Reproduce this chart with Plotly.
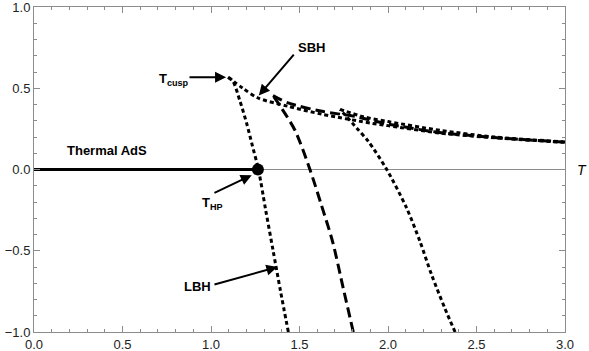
import plotly.graph_objects as go

FRAME_GRAY = "#8c8c8c"
INK = "#000000"
LABEL = "#222222"
FONT = "Liberation Sans"

# curve 1 (dotted): large-BH branch (bottom up to the cusp) and small-BH branch
curve1_lbh_T = [1.437, 1.393, 1.351, 1.309, 1.268, 1.232, 1.203, 1.164, 1.124, 1.096]
curve1_lbh_G = [-1.0, -0.75, -0.5, -0.25, 0.0, 0.154, 0.278, 0.42, 0.543, 0.568]
curve1_sbh_T = [1.096, 1.18, 1.266, 1.435, 1.627, 1.91, 2.0, 2.29, 2.6, 3.0]
curve1_sbh_G = [0.568, 0.50, 0.44, 0.389, 0.34, 0.284, 0.27, 0.225, 0.195, 0.167]

# curve 2 (dashed)
curve2_lbh_T = [1.804, 1.747, 1.687, 1.624, 1.559, 1.475, 1.40, 1.35]
curve2_lbh_G = [-1.0, -0.73, -0.444, -0.22, 0.0, 0.24, 0.375, 0.455]
curve2_sbh_T = [1.35, 1.435, 1.627, 1.81, 2.0, 2.29, 2.6, 3.0]
curve2_sbh_G = [0.455, 0.41, 0.358, 0.327, 0.28, 0.228, 0.197, 0.168]

# curve 3 (dotted)
curve3_lbh_T = [2.379, 2.322, 2.247, 2.181, 2.106, 1.993, 1.889, 1.825, 1.729]
curve3_lbh_G = [-1.0, -0.856, -0.65, -0.444, -0.239, 0.0, 0.173, 0.253, 0.37]
curve3_sbh_T = [1.729, 1.86, 2.0, 2.3, 2.6, 3.0]
curve3_sbh_G = [0.37, 0.325, 0.295, 0.24, 0.20, 0.17]

# thermal AdS branch and Hawking-Page point
ads_T = [0.0, 1.265]
ads_G = [0.0, 0.0]
hp_T = [1.265]
hp_G = [0.0]

DOT = "4px,3px"
DASH = "10px,5px"

fig = go.Figure()

fig.add_trace(go.Scatter(x=ads_T, y=ads_G, mode="lines",
                         line=dict(color=INK, width=3), showlegend=False))

branches = [
    (curve1_lbh_T, curve1_lbh_G, DOT),
    (curve1_sbh_T, curve1_sbh_G, DOT),
    (curve2_lbh_T, curve2_lbh_G, DASH),
    (curve2_sbh_T, curve2_sbh_G, DASH),
    (curve3_lbh_T, curve3_lbh_G, DOT),
    (curve3_sbh_T, curve3_sbh_G, DOT),
]
for xs, ys, dash in branches:
    fig.add_trace(go.Scatter(x=xs, y=ys, mode="lines",
                             line=dict(color=INK, width=3, dash=dash, shape="spline", smoothing=0.8),
                             showlegend=False))

fig.add_trace(go.Scatter(x=hp_T, y=hp_G, mode="markers",
                         marker=dict(color=INK, size=12), showlegend=False))

bold = dict(family=FONT, size=13, color=INK)

# arrows: (tail T, tail G, head T, head G)
arrows = [
    (0.87, 0.568, 1.085, 0.568),
    (1.475, 0.716, 1.27, 0.455),
    (1.011, -0.148, 1.23, -0.035),
    (1.011, -0.71, 1.375, -0.60),
]
for tx, ty, hx, hy in arrows:
    fig.add_annotation(x=hx, y=hy, ax=tx, ay=ty, xref="x", yref="y", axref="x", ayref="y",
                       text="", showarrow=True, arrowhead=2, arrowsize=1.1,
                       arrowwidth=2, arrowcolor=INK)

labels = [
    ("<b>Thermal AdS</b>", 0.412, 0.117, "center"),
    ("<b>T<sub>cusp</sub></b>", 0.885, 0.556, "right"),
    ("<b>SBH</b>", 1.565, 0.753, "center"),
    ("<b>T<sub>HP</sub></b>", 1.011, -0.21, "center"),
    ("<b>LBH</b>", 1.013, -0.722, "right"),
]
for txt, x, y, anchor in labels:
    fig.add_annotation(x=x, y=y, xref="x", yref="y", text=txt, showarrow=False,
                       xanchor=anchor, yanchor="middle", font=bold)

fig.add_annotation(x=1.032, y=0.5, xref="paper", yref="paper", text="<i>T</i>",
                   showarrow=False, xanchor="center", yanchor="middle",
                   font=dict(family=FONT, size=14, color=INK))

axis_common = dict(
    showline=True, linecolor=FRAME_GRAY, linewidth=1, mirror="allticks",
    ticks="inside", ticklen=6, tickwidth=1, tickcolor=FRAME_GRAY,
    showgrid=False, tickformat=".1f", automargin=False, ticklabeloverflow="allow",
    tickfont=dict(family=FONT, size=13, color=LABEL),
    minor=dict(ticks="inside", ticklen=3, tickcolor=FRAME_GRAY, showgrid=False),
)

fig.update_layout(
    width=589, height=351,
    margin=dict(l=34, r=24, t=7, b=19),
    paper_bgcolor="white", plot_bgcolor="white",
    font=dict(family=FONT, color=LABEL),
    xaxis=dict(range=[0, 3], dtick=0.5, zeroline=False, minor_dtick=0.1, **axis_common),
    yaxis=dict(range=[-1, 1], dtick=0.5, zeroline=True, zerolinecolor=FRAME_GRAY,
               zerolinewidth=1, minor_dtick=0.1, **axis_common),
)

# the page body has a default 8px margin; drop it so the figure fills the window
fig.write_html("out.html", config={"displayModeBar": False},
               post_script="document.body.style.margin = '0';")
